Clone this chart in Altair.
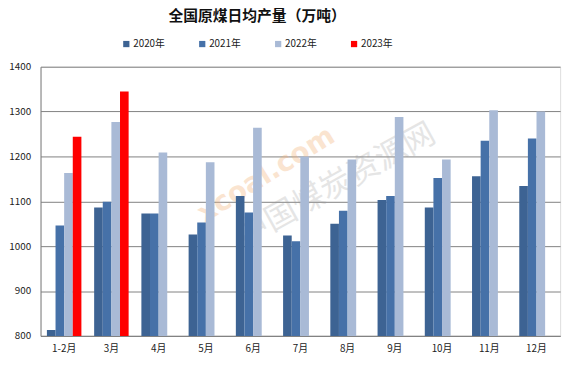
import altair as alt
import pandas as pd

months = ["1-2月", "3月", "4月", "5月", "6月", "7月", "8月", "9月", "10月", "11月", "12月"]
years = ["2020年", "2021年", "2022年", "2023年"]
v2020 = [813, 1086, 1073, 1026, 1112, 1024, 1050, 1103, 1086, 1156, 1134]
v2021 = [1046, 1099, 1073, 1053, 1075, 1011, 1079, 1112, 1152, 1235, 1240]
v2022 = [1163, 1277, 1209, 1187, 1264, 1200, 1193, 1288, 1193, 1303, 1300]
v2023 = [1244, 1345]
colors = ["#3D6393", "#4671A8", "#A9BAD6", "#FF0000"]

rows = []
for y, vals in zip(years, [v2020, v2021, v2022, v2023]):
    for m, v in zip(months, vals):
        rows.append({"month": m, "year": y, "value": v})
df = pd.DataFrame(rows)

FONT = "Noto Sans CJK SC"

bars = alt.Chart(df).mark_bar(clip=True).encode(
    x=alt.X("month:N", sort=months, title=None,
            scale=alt.Scale(paddingInner=0.27, paddingOuter=0.135),
            axis=alt.Axis(labelAngle=0, ticks=False, domainColor="#808080",
                          labelFont=FONT, labelFontSize=10, labelColor="#222",
                          labelPadding=8)),
    xOffset=alt.XOffset("year:N", sort=years, scale=alt.Scale(domain=years, paddingInner=0, paddingOuter=0)),
    y=alt.Y("value:Q", title=None,
            scale=alt.Scale(domain=[800, 1400], nice=False, zero=False),
            axis=alt.Axis(values=[800, 900, 1000, 1100, 1200, 1300, 1400],
                          format="d",
                          ticks=False, domainColor="#808080", gridColor="#808080",
                          gridWidth=1, gridOpacity=1, labelFont=FONT, labelFontSize=10,
                          labelColor="#222", labelPadding=10)),
    color=alt.Color("year:N", sort=years,
                    scale=alt.Scale(domain=years, range=colors),
                    legend=alt.Legend(title=None, orient="none", direction="horizontal",
                                      columns=4, legendX=82, legendY=-28,
                                      symbolType="square", symbolSize=40,
                                      symbolStrokeWidth=0, labelFont=FONT,
                                      labelFontSize=10, labelColor="#222",
                                      labelOffset=2, columnPadding=32)),
)

wm1 = alt.Chart(pd.DataFrame({"t": ["xcoal.com"]})).mark_text(
    font="DejaVu Sans", fontSize=28, fontWeight="bold", angle=328,
    color="#F3B37A", opacity=0.35
).encode(x=alt.value(229), y=alt.value(110), text="t:N")

wm2 = alt.Chart(pd.DataFrame({"t": ["中国煤炭资源网"]})).mark_text(
    font=FONT, fontSize=32, angle=331, color="#9a9a9a", opacity=0.25
).encode(x=alt.value(300), y=alt.value(120), text="t:N")

chart = alt.layer(wm1, wm2, bars).properties(
    width=527, height=273,
    title=alt.Title("全国原煤日均产量（万吨）", font=FONT, fontSize=15,
                    fontWeight="bold", color="#111", anchor="start",
                    dx=162, offset=15),
    autosize="none",
    padding={"left": 33, "top": 57, "right": 9, "bottom": 28},
).configure_view(stroke=None).configure(background="white")

chart.save("out.html", embed_options={"renderer": "svg", "actions": False})
